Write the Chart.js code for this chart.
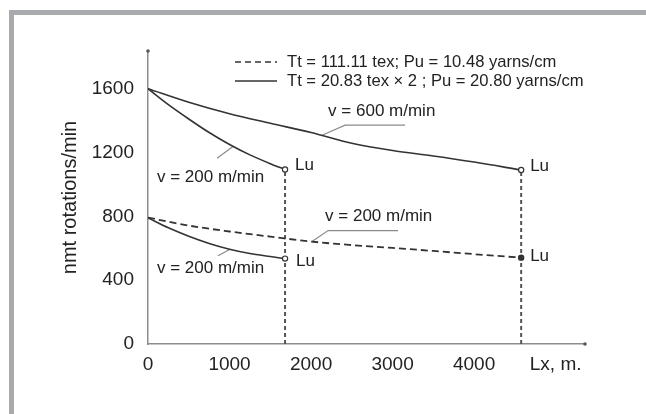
<!DOCTYPE html>
<html>
<head>
<meta charset="utf-8">
<script src="https://cdn.jsdelivr.net/npm/chart.js@4.4.1/dist/chart.umd.min.js"></script>
<style>
  html, body { margin: 0; padding: 0; background: #fff; }
  #wrap { position: relative; width: 646px; height: 414px; overflow: hidden; }
  #frame { position: absolute; left: 9px; top: 10px; width: 700px; height: 500px;
           border-top: 5px solid #a9aaae; border-left: 5px solid #a9aaae; }
  canvas { position: absolute; left: 0; top: 0; }
</style>
</head>
<body>
<div id="wrap">
  <div id="frame"></div>
  <canvas id="chart" width="646" height="414"></canvas>
</div>
<script>
// Axis ticks
const xTickValues = [0, 1000, 2000, 3000, 4000, 5000];
const xTickLabels = ['0', '1000', '2000', '3000', '4000', 'Lx, m.'];
const yTickValues = [0, 400, 800, 1200, 1600];

// Solid curve, v = 600 m/min
const upper600Dist = [0, 500, 1000, 1500, 2000, 2500, 3000, 3500, 4000, 4577];
const upper600Rate = [1600, 1515, 1443, 1383, 1325, 1258, 1212, 1178, 1140, 1090];

// Solid curve, v = 200 m/min (upper)
const upper200Dist = [0, 250, 500, 750, 1000, 1250, 1500, 1681];
const upper200Rate = [1600, 1500, 1410, 1325, 1250, 1185, 1130, 1094];

// Solid curve, v = 200 m/min (lower)
const lower200Dist = [0, 250, 500, 750, 1000, 1250, 1500, 1681];
const lower200Rate = [790, 728, 675, 630, 594, 567, 548, 535];

// Dashed curve, v = 200 m/min
const dashed200Dist = [0, 500, 1000, 1500, 2000, 2500, 3000, 3500, 4000, 4577];
const dashed200Rate = [792, 742, 705, 673, 642, 620, 602, 583, 563, 541];

// Legend entries
const legendTexts = ['Tt = 111.11 tex; Pu = 10.48 yarns/cm', 'Tt = 20.83 tex × 2 ; Pu = 20.80 yarns/cm'];

// Curve labels (data units, text left edge / middle)
const notes = [
    { text: 'v = 600 m/min', x: 2209, y: 1459 },
    { text: 'v = 200 m/min', x: 110, y: 1044 },
    { text: 'Lu', x: 1804, y: 1119 },
    { text: 'v = 200 m/min', x: 110, y: 472 },
    { text: 'Lu', x: 1816, y: 516 },
    { text: 'v = 200 m/min', x: 2172, y: 799 },
    { text: 'Lu', x: 4687, y: 1113 },
    { text: 'Lu', x: 4687, y: 547 }
];

// Leader lines from labels to curves (data units)
const leaders = [
    [[2135, 1308], [2417, 1371], [3153, 1371]],
    [[847, 1164], [1043, 1237]],
    [[859, 553], [1006, 594]],
    [[2012, 642], [2209, 711], [3067, 711]]
];

const ink = '#333333';
const font = '"Liberation Sans", Arial, sans-serif';

function pts(xs, ys) {
    return xs.map((x, i) => ({ x: x, y: ys[i] }));
}

// only the last point (the Lu point) gets a marker
function endRadius(n, r) {
    return Array.from({ length: n }, (_, i) => (i === n - 1 ? r : 0));
}

function curve(xs, ys, dash, filledEnd) {
    return {
        data: pts(xs, ys),
        borderColor: ink,
        borderWidth: dash.length ? 1.8 : 1.6,
        borderDash: dash,
        cubicInterpolationMode: 'monotone',
        pointRadius: endRadius(xs.length, 2.6),
        pointBackgroundColor: filledEnd ? ink : '#ffffff',
        pointBorderColor: ink,
        pointBorderWidth: 1.2,
        order: 1
    };
}

const datasets = [
    curve(upper600Dist, upper600Rate, [], false),
    curve(upper200Dist, upper200Rate, [], false),
    curve(lower200Dist, lower200Rate, [], false),
    curve(dashed200Dist, dashed200Rate, [7, 4], true)
];

// Vertical drop lines at the Lu points
[[upper200Dist, upper200Rate], [upper600Dist, upper600Rate]].forEach(([xs, ys]) => {
    const lx = xs[xs.length - 1];
    datasets.push({
        data: [{ x: lx, y: 0 }, { x: lx, y: ys[ys.length - 1] }],
        borderColor: '#555555',
        borderWidth: 2,
        borderDash: [4, 3],
        pointRadius: 0,
        order: 3
    });
});

leaders.forEach(l => {
    datasets.push({
        data: l.map(p => ({ x: p[0], y: p[1] })),
        borderColor: '#8a8a8a',
        borderWidth: 1.2,
        pointRadius: 0,
        tension: 0,
        order: 2
    });
});

const notesPlugin = {
    id: 'notes',
    afterDatasetsDraw(chart) {
        const { ctx, chartArea } = chart;
        const xs = chart.scales.x, ys = chart.scales.y;
        ctx.save();
        ctx.fillStyle = '#222222';
        ctx.textAlign = 'left';
        ctx.textBaseline = 'middle';
        ctx.font = '17px ' + font;
        notes.forEach(n => {
            ctx.fillText(n.text, xs.getPixelForValue(n.x), ys.getPixelForValue(n.y));
        });

        // legend
        ctx.font = '16.6px ' + font;
        legendTexts.forEach((t, i) => {
            const yy = 62 + i * 19;
            ctx.strokeStyle = ink;
            ctx.lineWidth = 1.6;
            ctx.setLineDash(i === 0 ? [6, 4] : []);
            ctx.beginPath();
            ctx.moveTo(235, yy);
            ctx.lineTo(277, yy);
            ctx.stroke();
            ctx.setLineDash([]);
            ctx.fillText(t, 287, yy);
        });

        // small dots at the axis ends
        ctx.fillStyle = '#555555';
        ctx.beginPath();
        ctx.arc(chartArea.left, chartArea.top, 1.8, 0, Math.PI * 2);
        ctx.arc(chartArea.right, chartArea.bottom, 1.8, 0, Math.PI * 2);
        ctx.fill();
        ctx.restore();
    }
};

new Chart(document.getElementById('chart').getContext('2d'), {
    type: 'line',
    data: { datasets: datasets },
    plugins: [notesPlugin],
    options: {
        responsive: false,
        animation: false,
        layout: { padding: { left: 54, top: 51, right: 61, bottom: 0 } },
        plugins: {
            legend: { display: false },
            tooltip: { enabled: false }
        },
        scales: {
            x: {
                type: 'linear',
                min: 0,
                max: 5360,
                afterBuildTicks: s => { s.ticks = xTickValues.map(v => ({ value: v })); },
                afterFit: s => { s.height = 70; },
                grid: { display: false, drawTicks: false },
                border: { display: true, color: '#8c8c8c', width: 1.5 },
                ticks: {
                    autoSkip: false,
                    maxRotation: 0,
                    padding: 9,
                    color: '#222222',
                    font: { family: font, size: 19 },
                    callback: (v, i) => xTickLabels[i]
                }
            },
            y: {
                type: 'linear',
                min: 0,
                max: 1836,
                afterBuildTicks: s => { s.ticks = yTickValues.map(v => ({ value: v })); },
                afterFit: s => { s.width = 94; },
                grid: { display: false, drawTicks: false },
                border: { display: true, color: '#8c8c8c', width: 1.5 },
                ticks: {
                    padding: 14,
                    color: '#222222',
                    font: { family: font, size: 19 },
                    callback: v => String(v)
                },
                title: {
                    display: true,
                    text: 'nmt rotations/min',
                    color: '#222222',
                    font: { family: font, size: 20 },
                    padding: { top: 4, bottom: 0 }
                }
            }
        }
    }
});
</script>
</body>
</html>
